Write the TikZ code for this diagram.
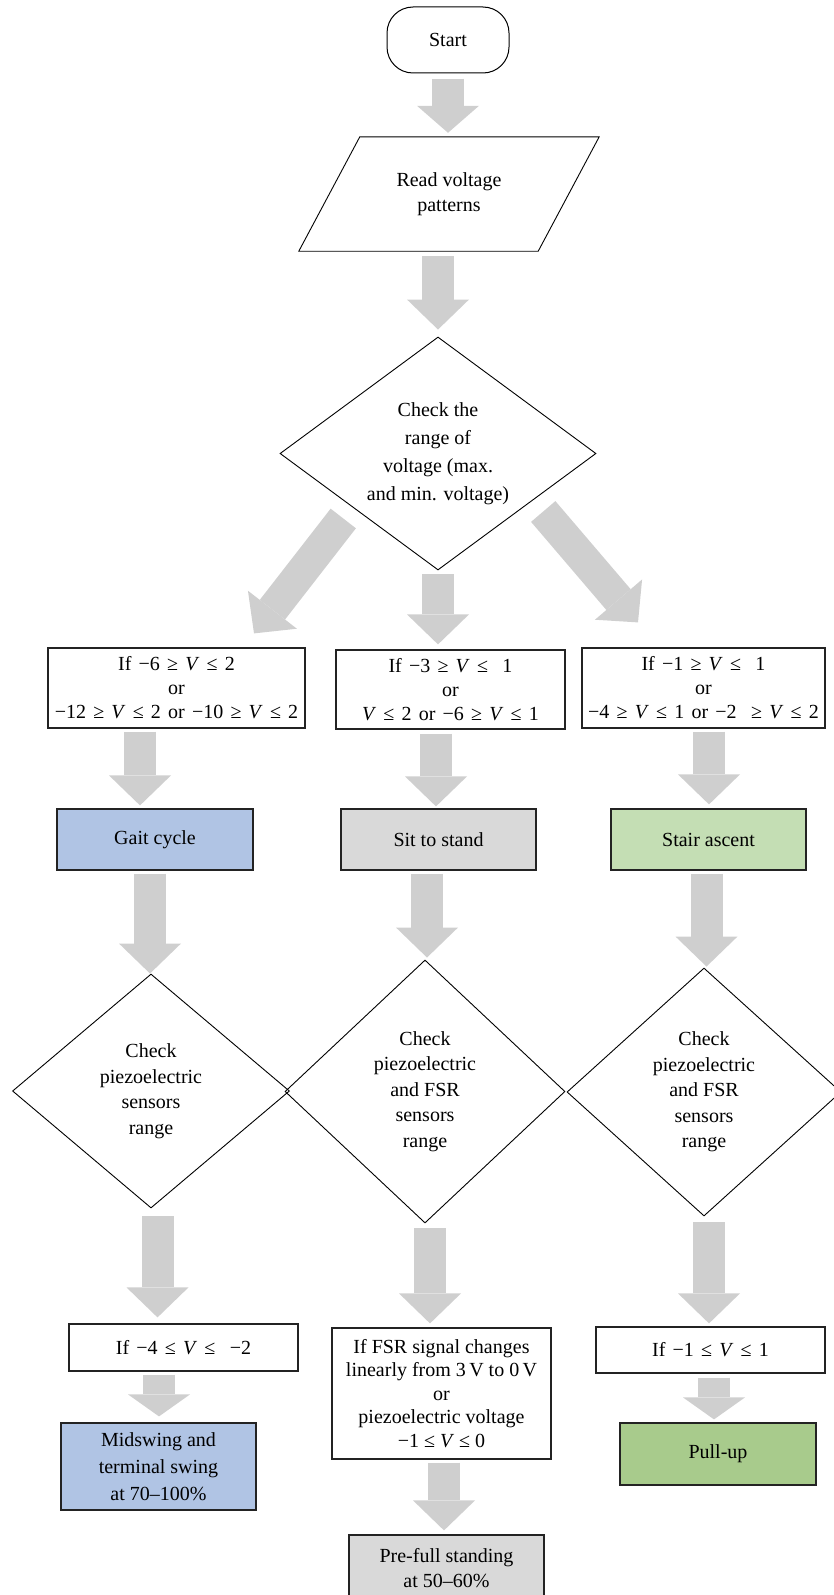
\documentclass[tikz,border=0pt]{standalone}
\usepackage{fontspec}
\setmainfont{Liberation Serif}
\usetikzlibrary{shapes.geometric,arrows.meta}
\definecolor{arrowgray}{RGB}{207,207,207}
\definecolor{gaitblue}{RGB}{176,196,228}
\definecolor{sitgray}{RGB}{217,217,217}
\definecolor{stairgreen}{RGB}{196,222,180}
\definecolor{pullgreen}{RGB}{168,203,140}
\definecolor{edge}{RGB}{35,35,35}
\newcommand{\widespaces}{\spaceskip=0.36em plus 0.1em\relax}

\begin{document}
\begin{tikzpicture}[x=1pt,y=-1pt,
    every node/.style={align=center,inner sep=0pt,font=\fontsize{20}{24}\selectfont},
    box/.style={draw=edge,line width=1.2pt},
    cond/.style={font=\fontsize{20}{24}\selectfont\widespaces},
    decision/.style={draw,diamond,line width=0.9pt,font=\fontsize{20}{25.5}\selectfont},
    bigarrow/.style={draw=arrowgray,line width=32pt,-{Triangle[length=30pt,width=62pt,line width=0pt,fill=arrowgray]}},
    smallarrow/.style={draw=arrowgray,line width=32pt,-{Triangle[length=22pt,width=62pt,line width=0pt,fill=arrowgray]}}]
    \useasboundingbox (0,0) rectangle (834,1595);
    \clip (0,0) rectangle (834,1595);

    \node[draw,line width=1pt,rounded corners=26pt,minimum width=122pt,minimum height=66pt] (start) at (448,40) {Start};
    \node[minimum width=300pt,minimum height=114pt,font=\fontsize{20}{25}\selectfont] (read) at (449,194) {Read voltage\\patterns};
    \draw[line width=0.9pt] ([xshift=61pt]read.north west) -- (read.north east) -- ([xshift=-61pt]read.south east) -- (read.south west) -- cycle;
    \node[decision,aspect=1.356,minimum width=316pt,minimum height=233pt,font=\fontsize{20}{28}\selectfont] (range) at (438,453.5) {Check the\\range of\\voltage (max.\\and min. voltage)};

    \node[box,cond,minimum width=257pt,minimum height=80pt] (lcheck) at (176.5,688) {If −6 ≥ \textit{V} ≤ 2\\or\\−12 ≥ \textit{V} ≤ 2 or −10 ≥ \textit{V} ≤ 2};
    \node[box,cond,minimum width=229pt,minimum height=79pt] (mcheck) at (450.5,689.5) {If −3 ≥ \textit{V} ≤\ \ 1\\or\\\textit{V} ≤ 2 or −6 ≥ \textit{V} ≤ 1};
    \node[box,cond,minimum width=243pt,minimum height=80pt] (rcheck) at (703.5,688) {If −1 ≥ \textit{V} ≤\ \ 1\\or\\−4 ≥ \textit{V} ≤ 1 or −2\ \ ≥ \textit{V} ≤ 2};

    \node[box,fill=gaitblue,minimum width=196pt,minimum height=61pt] (gait) at (155,839.5) {Gait cycle};
    \node[box,fill=sitgray,minimum width=195pt,minimum height=61pt] (sit) at (438.5,839.5) {Sit to stand};
    \node[box,fill=stairgreen,minimum width=195pt,minimum height=61pt] (stair) at (708.5,839.5) {Stair ascent};

    \node[decision,aspect=1.18,minimum width=277pt,minimum height=234pt] (gaitcheck) at (151,1091) {Check\\piezoelectric\\sensors\\range};
    \node[decision,aspect=1.065,minimum width=280pt,minimum height=263pt] (sitcheck) at (425,1091.5) {Check\\piezoelectric\\and FSR\\sensors\\range};
    \node[decision,aspect=1.105,minimum width=274pt,minimum height=248pt] (staircheck) at (704,1092) {Check\\piezoelectric\\and FSR\\sensors\\range};

    \node[box,cond,minimum width=229pt,minimum height=47pt] (gaitrange) at (183.5,1347.5) {If −4 ≤ \textit{V} ≤\ \ −2};
    \node[box,minimum width=219pt,minimum height=131pt,font=\fontsize{20}{23.5}\selectfont] (fsr) at (441.5,1393.5) {If FSR signal changes\\linearly from 3\,V to 0\,V\\or\\piezoelectric voltage\\−1 ≤ \textit{V} ≤ 0};
    \node[box,cond,minimum width=229pt,minimum height=46pt] (stairrange) at (710.5,1350) {If −1 ≤ \textit{V} ≤ 1};

    \node[box,fill=gaitblue,minimum width=195pt,minimum height=87pt,font=\fontsize{20}{27}\selectfont] (midswing) at (158.5,1466.5) {Midswing and\\terminal swing\\at 70–100\%};
    \node[box,fill=sitgray,minimum width=195pt,minimum height=66pt,font=\fontsize{20}{25}\selectfont] (prefull) at (446.5,1568) {Pre-full standing\\at 50–60\%};
    \node[box,fill=pullgreen,minimum width=196pt,minimum height=62pt] (pullup) at (718,1454) {Pull-up};

    \draw[bigarrow,-{Triangle[length=27pt,width=62pt,line width=0pt,fill=arrowgray]},shorten <=5pt,shorten >=4pt] (start.south) -- (start.south |- read.north);
    \draw[bigarrow,shorten <=5pt,shorten >=7pt] (range.north |- read.south) -- (range.north);
    \draw[bigarrow] ([shift={(-15.5,6.5)}]range.south west) -- ([shift={(77.5,-14)}]lcheck.north);
    \draw[bigarrow,shorten <=4pt,shorten >=5pt] (range.south) -- (range.south |- mcheck.north);
    \draw[bigarrow] ([shift={(26,-0.5)}]range.south east) -- ([shift={(-65.5,-25)}]rcheck.north);

    \draw[bigarrow,shorten <=3pt,shorten >=3pt] ([xshift=-36.5pt]lcheck.south) -- ([xshift=-36.5pt]lcheck.south |- gait.north);
    \draw[bigarrow,shorten <=4pt,shorten >=2pt] ([xshift=-14.5pt]mcheck.south) -- ([xshift=-14.5pt]mcheck.south |- sit.north);
    \draw[bigarrow,shorten <=3pt,shorten >=4pt] ([xshift=5.5pt]rcheck.south) -- ([xshift=5.5pt]rcheck.south |- stair.north);

    \draw[bigarrow,shorten <=3pt] ([xshift=-5pt]gait.south) -- ([xshift=-5pt]gait.south |- gaitcheck.north);
    \draw[bigarrow,shorten <=3pt,shorten >=2pt] ([xshift=2pt]sitcheck.north |- sit.south) -- ([xshift=2pt]sitcheck.north);
    \draw[bigarrow,shorten <=3pt,shorten >=1pt] ([xshift=2.5pt]staircheck.north |- stair.south) -- ([xshift=2.5pt]staircheck.north);

    \draw[bigarrow,shorten <=8pt,shorten >=6pt] ([xshift=6.5pt]gaitcheck.south) -- ([xshift=6.5pt]gaitcheck.south |- gaitrange.north);
    \draw[bigarrow,shorten <=5pt,shorten >=4pt] ([xshift=5pt]sitcheck.south) -- ([xshift=5pt]sitcheck.south |- fsr.north);
    \draw[bigarrow,shorten <=6pt,shorten >=3pt] ([xshift=5pt]staircheck.south) -- ([xshift=5pt]staircheck.south |- stairrange.north);

    \draw[smallarrow,shorten <=3pt,shorten >=6pt] ([xshift=-24.5pt]gaitrange.south) -- ([xshift=-24.5pt]gaitrange.south |- midswing.north);
    \draw[bigarrow,shorten <=3pt,shorten >=4pt] ([xshift=2.5pt]fsr.south) -- ([xshift=2.5pt]fsr.south |- prefull.north);
    \draw[smallarrow,shorten <=4pt,shorten >=3pt] ([xshift=3.5pt]stairrange.south) -- ([xshift=3.5pt]stairrange.south |- pullup.north);
\end{tikzpicture}
\end{document}
